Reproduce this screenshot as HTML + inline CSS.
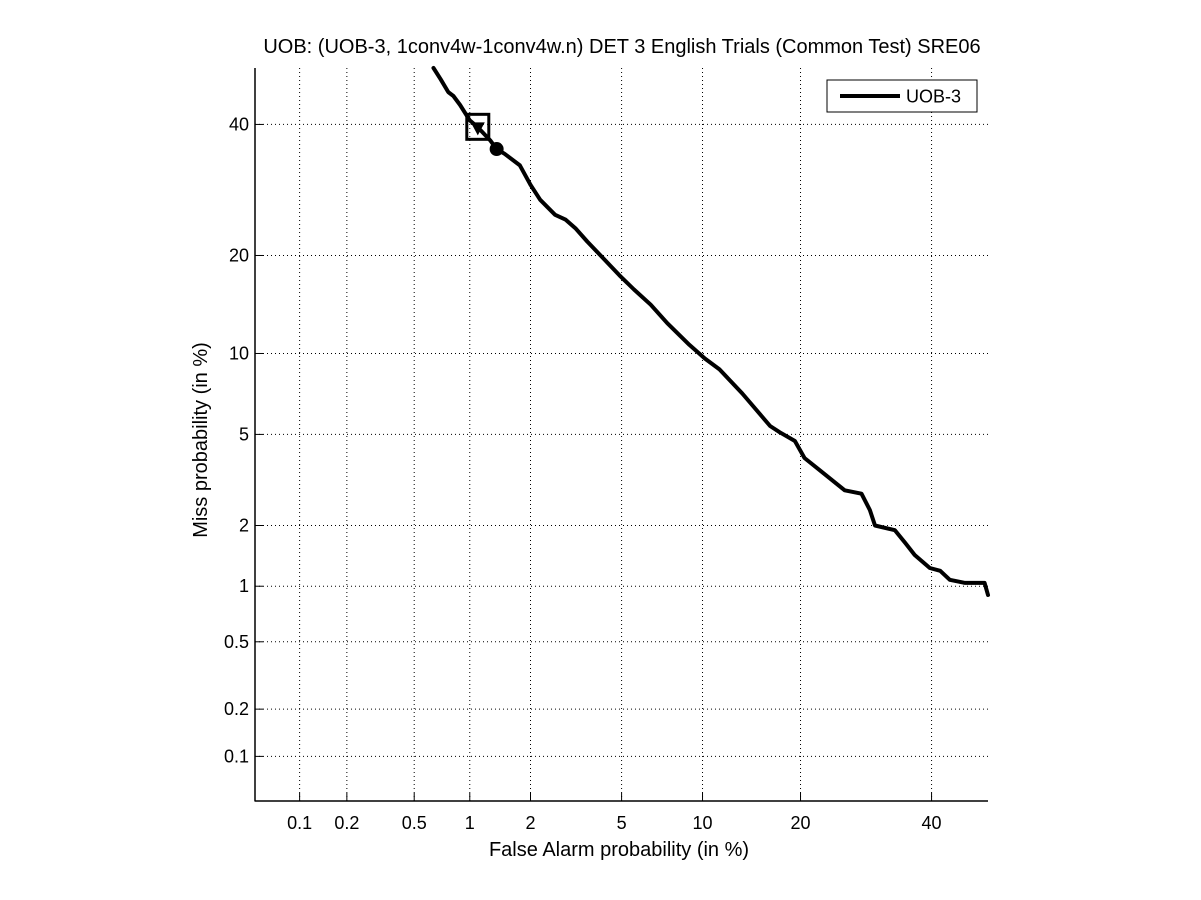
<!DOCTYPE html>
<html><head><meta charset="utf-8"><style>
html,body{margin:0;padding:0;background:#fff;}
svg{display:block;font-family:"Liberation Sans",sans-serif;}
</style></head><body>
<svg id="chart" width="1201" height="900">
<rect x="0" y="0" width="1201" height="900" fill="#fff"/>
<g id="grid"></g>
<line x1="255" y1="68" x2="255" y2="801.5" stroke="#000" stroke-width="1.5"/>
<line x1="255" y1="801" x2="988" y2="801" stroke="#000" stroke-width="1.5"/>
<g id="ticks"></g>
<g id="series"></g>
<text x="622" y="53" text-anchor="middle" font-size="20">UOB: (UOB-3, 1conv4w-1conv4w.n) DET 3 English Trials (Common Test) SRE06</text>
<text x="619" y="856" text-anchor="middle" font-size="20">False Alarm probability (in %)</text>
<text transform="translate(207,440) rotate(-90)" text-anchor="middle" font-size="20">Miss probability (in %)</text>
<g>
<rect x="827" y="80" width="150" height="32" fill="#fff" stroke="#000"/>
<line x1="840" y1="96" x2="900" y2="96" stroke="#000" stroke-width="4"/>
<text x="906" y="102.5" font-size="18">UOB-3</text>
</g>
</svg>
<script>
const tickValues = [0.1, 0.2, 0.5, 1, 2, 5, 10, 20, 40];
const tickLabels = ["0.1", "0.2", "0.5", "1", "2", "5", "10", "20", "40"];
const faValues = [0.64,0.7,0.77,0.82,0.89,1.0,1.1,1.27,1.37,1.5,1.78,2.0,2.22,2.6,2.9,3.2,3.6,4.1,4.9,5.6,6.5,7.5,9.0,10.2,11.4,13.5,16.4,17.5,19.3,20.5,22.5,26.0,28.5,29.8,30.6,33.8,35.5,37.1,39.7,41.5,43.2,45.9,49.4,50];
const missValues = [50,48,45.7,45,43.4,40.7,39.5,37.3,35.8,35.0,33.1,30.0,27.7,25.5,24.8,23.6,21.8,20.0,17.6,16.0,14.4,12.6,10.7,9.6,8.8,7.2,5.4,5.1,4.7,4.0,3.55,2.9,2.8,2.36,2.0,1.9,1.65,1.44,1.24,1.2,1.08,1.04,1.04,0.9];
const actDcf = [1.1, 39.5];
const minDcf = [1.37, 35.8];

function probit(p){
  const a=[-39.69683028665376,220.9460984245205,-275.9285104469687,138.3577518672690,-30.66479806614716,2.506628277459239];
  const b=[-54.47609879822406,161.5858368580409,-155.6989798598866,66.80131188771972,-13.28068155288572];
  const c=[-0.007784894002430293,-0.3223964580411365,-2.400758277161838,-2.549732539343734,4.374664141464968,2.938163982698783];
  const d=[0.007784695709041462,0.3224671290700398,2.445134137142996,3.754408661907416];
  const pl=0.02425;let q,r;
  if(p<pl){q=Math.sqrt(-2*Math.log(p));return (((((c[0]*q+c[1])*q+c[2])*q+c[3])*q+c[4])*q+c[5])/((((d[0]*q+d[1])*q+d[2])*q+d[3])*q+1);}
  if(p<=1-pl){q=p-0.5;r=q*q;return (((((a[0]*r+a[1])*r+a[2])*r+a[3])*r+a[4])*r+a[5])*q/(((((b[0]*r+b[1])*r+b[2])*r+b[3])*r+b[4])*r+1);}
  q=Math.sqrt(-2*Math.log(1-p));return -(((((c[0]*q+c[1])*q+c[2])*q+c[3])*q+c[4])*q+c[5])/((((d[0]*q+d[1])*q+d[2])*q+d[3])*q+1);
}
const zmin=probit(0.0005), zmax=0, L=255, R=988, T=68, B=801;
const xs=v=>L+(probit(v/100)-zmin)/(zmax-zmin)*(R-L);
const ys=v=>B-(probit(v/100)-zmin)/(zmax-zmin)*(B-T);
const NS="http://www.w3.org/2000/svg";
const mk=(t,at,parent)=>{const e=document.createElementNS(NS,t);for(const k in at)e.setAttribute(k,at[k]);parent.appendChild(e);return e;};
const grid=document.getElementById('grid'), ticks=document.getElementById('ticks'), series=document.getElementById('series');
tickValues.forEach((v,i)=>{
  const x=xs(v), y=ys(v);
  let g=mk('line',{x1:x,y1:T,x2:x,y2:B,stroke:'#000','stroke-dasharray':'1,3'},grid);
  
  
  g=mk('line',{x1:L,y1:y,x2:R,y2:y,stroke:'#000','stroke-dasharray':'1,3'},grid);
  
  
  g=mk('line',{x1:x,y1:B,x2:x,y2:B-8,stroke:'#000'},ticks);
  
  
  g=mk('line',{x1:L,y1:y,x2:L+8,y2:y,stroke:'#000'},ticks);
  
  
  let t=mk('text',{x:x,y:B+28,'text-anchor':'middle','font-size':18},ticks);
  t.textContent=tickLabels[i];
  
  
  t=mk('text',{x:L-6,y:y+6,'text-anchor':'end','font-size':18},ticks);
  t.textContent=tickLabels[i];
  
  
});
const pts=faValues.map((f,i)=>xs(f).toFixed(1)+','+ys(missValues[i]).toFixed(1)).join(' ');
const line=mk('polyline',{points:pts,fill:'none',stroke:'#000','stroke-width':4,'stroke-linejoin':'round','stroke-linecap':'round'},series);


const ax=xs(actDcf[0]), ay=ys(actDcf[1]);
const sq=mk('rect',{x:ax-11,y:ay-13,width:22,height:25,fill:'none',stroke:'#000','stroke-width':3},series);


const tri=mk('polygon',{points:`${ax-7},${ay-5} ${ax+7},${ay-5} ${ax},${ay+8}`,fill:'#000'},series);


const ci=mk('circle',{cx:xs(minDcf[0]),cy:ys(minDcf[1]),r:6,fill:'#000',stroke:'#000','stroke-width':2},series);


</script>
</body></html>
